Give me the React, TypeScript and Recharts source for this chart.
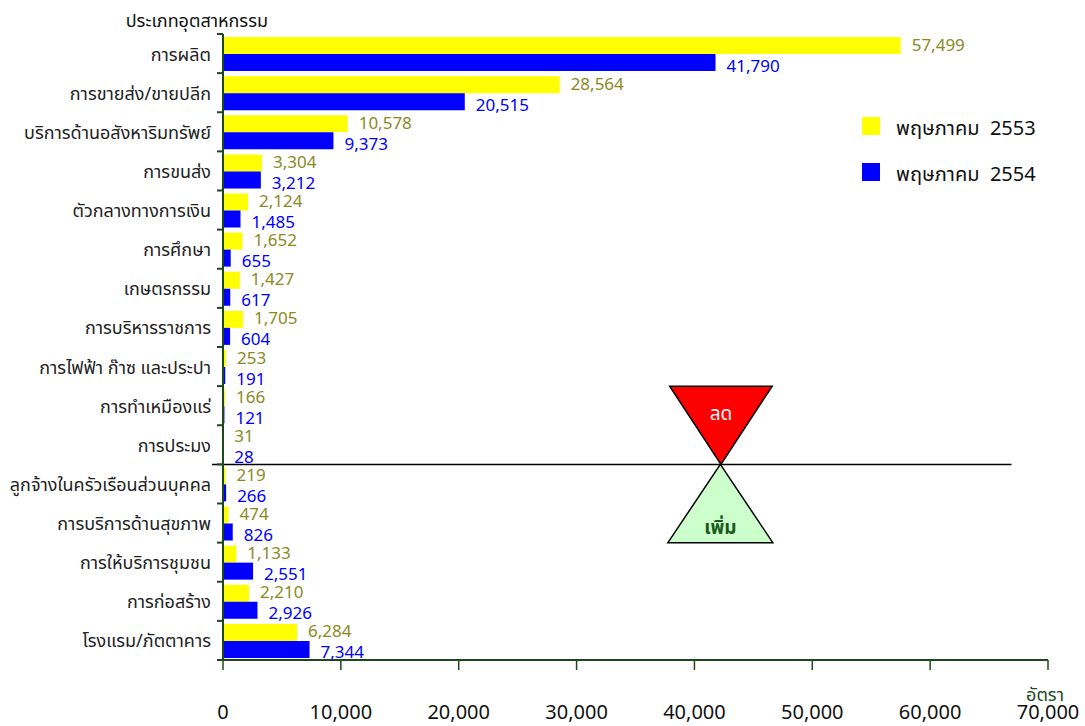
import React from 'react';
import {
  BarChart, Bar, XAxis, YAxis, LabelList, Legend, ReferenceLine, ReferenceArea, Label,
} from 'recharts';

const categories = [
  'การผลิต',
  'การขายส่ง/ขายปลีก',
  'บริการด้านอสังหาริมทรัพย์',
  'การขนส่ง',
  'ตัวกลางทางการเงิน',
  'การศึกษา',
  'เกษตรกรรม',
  'การบริหารราชการ',
  'การไฟฟ้า ก๊าซ และประปา',
  'การทำเหมืองแร่',
  'การประมง',
  'ลูกจ้างในครัวเรือนส่วนบุคคล',
  'การบริการด้านสุขภาพ',
  'การให้บริการชุมชน',
  'การก่อสร้าง',
  'โรงแรม/ภัตตาคาร',
];
const may2553 = [57499, 28564, 10578, 3304, 2124, 1652, 1427, 1705, 253, 166, 31, 219, 474, 1133, 2210, 6284];
const may2554 = [41790, 20515, 9373, 3212, 1485, 655, 617, 604, 191, 121, 28, 266, 826, 2551, 2926, 7344];
const seriesNames = ['พฤษภาคม  2553', 'พฤษภาคม  2554'];
const xTicks = [0, 10000, 20000, 30000, 40000, 50000, 60000, 70000];
const yAxisTitle = 'ประเภทอุตสาหกรรม';
const xAxisTitle = 'อัตรา';
const decreaseLabel = 'ลด';
const increaseLabel = 'เพิ่ม';
// last category of the "decrease" group and first of the "increase" group
const lastDecrease = categories[10];
const firstIncrease = categories[11];

const data = categories.map((name, i) => ({ name, a: may2553[i], b: may2554[i] }));

const W = 1085;
const H = 726;
const MARGIN = { top: 34, right: 37, bottom: 0, left: 0 };
const Y_AXIS_WIDTH = 223;
const X_AXIS_HEIGHT = 66;
const BAND = (H - MARGIN.top - MARGIN.bottom - X_AXIS_HEIGHT) / categories.length;
const FONT = "Tahoma, 'Noto Sans Thai', 'Noto Sans', 'DejaVu Sans', sans-serif";
const AXIS = '#1d4a1d';
const YELLOW = '#FFFF00';
const BLUE = '#0000FF';
const OLIVE = '#8a8a1e';

const fmt = (v: number) => v.toLocaleString('en-US');

function CategoryTick(props: any) {
  const { x, y, payload, index } = props;
  return (
    <g>
      <line x1={x - 6} x2={x} y1={y - BAND / 2} y2={y - BAND / 2} stroke={AXIS} strokeWidth={2} />
      {index === categories.length - 1 && (
        <line x1={x - 6} x2={x} y1={y + BAND / 2} y2={y + BAND / 2} stroke={AXIS} strokeWidth={2} />
      )}
      <text x={x - 12} y={y} dy={7} textAnchor="end" fontSize={18} fill="#222" fontFamily={FONT}>
        {payload.value}
      </text>
    </g>
  );
}

const makeLabel = (color: string, shift: number) => (props: any) => {
  const { x, y, width, height, value } = props;
  return (
    <text x={x + width + 11} y={y + height / 2 + shift} dy={6} fontSize={17} fill={color} fontFamily={FONT}>
      {fmt(value)}
    </text>
  );
};

function LegendContent() {
  const items = [
    { name: seriesNames[0], color: YELLOW },
    { name: seriesNames[1], color: BLUE },
  ];
  return (
    <div style={{ fontFamily: FONT }}>
      {items.map((it) => (
        <div key={it.name} style={{ display: 'flex', alignItems: 'center', height: 46 }}>
          <div style={{ width: 18, height: 18, background: it.color, marginRight: 16 }} />
          <span style={{ fontSize: 20, color: '#111', whiteSpace: 'pre', position: 'relative', top: 3 }}>{it.name}</span>
        </div>
      ))}
    </div>
  );
}

const downTriangle = (props: any) => {
  const { x, y, width, height } = props;
  return (
    <g>
      <polygon
        points={`${x},${y} ${x + width},${y} ${x + width / 2},${y + height}`}
        fill="#FF0000"
        stroke="#000"
        strokeWidth={1.5}
      />
      <text x={x + width / 2} y={y + 28} dy={6} textAnchor="middle" fontSize={19} fill="#fff" fontFamily={FONT}>
        {decreaseLabel}
      </text>
    </g>
  );
};

const upTriangle = (props: any) => {
  const { x, y, width, height } = props;
  return (
    <g>
      <polygon
        points={`${x + width / 2},${y} ${x + width},${y + height} ${x},${y + height}`}
        fill="#CCFFCC"
        stroke="#000"
        strokeWidth={1.5}
      />
      <text x={x + width / 2} y={y + height - 15} dy={6} textAnchor="middle" fontSize={19} fontWeight="bold" fill="#1d5a1d" fontFamily={FONT}>
        {increaseLabel}
      </text>
    </g>
  );
};

export default function App() {
  return (
    <div style={{ position: 'absolute', left: 0, top: 0, width: W, height: H, background: '#fff' }}>
      <BarChart
        width={W}
        height={H}
        data={data}
        layout="vertical"
        margin={MARGIN}
        barCategoryGap={3}
        barGap={0}
      >
        <XAxis
          type="number"
          domain={[0, 70000]}
          ticks={xTicks}
          tickFormatter={fmt}
          height={X_AXIS_HEIGHT}
          axisLine={{ stroke: AXIS, strokeWidth: 2 }}
          tickLine={{ stroke: AXIS, strokeWidth: 1.5 }}
          tickSize={10}
          tickMargin={35}
          tick={{ fontSize: 20, fill: '#111', fontFamily: FONT }}
          interval={0}
        >
          <Label
            content={(p: any) => {
              const vb = p.viewBox;
              return (
                <text x={vb.x + vb.width - 3} y={695} dy={6} textAnchor="middle" fontSize={18} fill="#1d4a1d" fontFamily={FONT}>
                  {xAxisTitle}
                </text>
              );
            }}
          />
        </XAxis>
        <YAxis
          type="category"
          dataKey="name"
          width={Y_AXIS_WIDTH}
          axisLine={{ stroke: AXIS, strokeWidth: 2 }}
          tickLine={false}
          tickSize={0}
          tickMargin={0}
          tick={<CategoryTick />}
          interval={0}
        >
          <Label
            content={(p: any) => {
              const vb = p.viewBox;
              return (
                <text x={vb.x + vb.width + 45} y={vb.y - 13} dy={6} textAnchor="end" fontSize={18} fill="#111" fontFamily={FONT}>
                  {yAxisTitle}
                </text>
              );
            }}
          />
        </YAxis>
        <Legend
          layout="vertical"
          align="center"
          verticalAlign="middle"
          wrapperStyle={{ left: 862, top: 103, width: 220 }}
          content={<LegendContent />}
        />
        <Bar dataKey="a" name={seriesNames[0]} fill={YELLOW} isAnimationActive={false}>
          <LabelList dataKey="a" content={makeLabel(OLIVE, -1)} />
        </Bar>
        <Bar dataKey="b" name={seriesNames[1]} fill={BLUE} isAnimationActive={false}>
          <LabelList dataKey="b" content={makeLabel(BLUE, 3)} />
        </Bar>
        <ReferenceLine
          segment={[{ x: -930, y: lastDecrease }, { x: 66900, y: lastDecrease }]}
          position="end"
          stroke="#000"
          strokeWidth={1.5}
          ifOverflow="visible"
        />
        <ReferenceArea
          x1={37900}
          x2={46600}
          y1={categories[9]}
          y2={lastDecrease}
          ifOverflow="visible"
          shape={downTriangle}
        />
        <ReferenceArea
          x1={37750}
          x2={46650}
          y1={firstIncrease}
          y2={categories[12]}
          ifOverflow="visible"
          shape={upTriangle}
        />
      </BarChart>
    </div>
  );
}
